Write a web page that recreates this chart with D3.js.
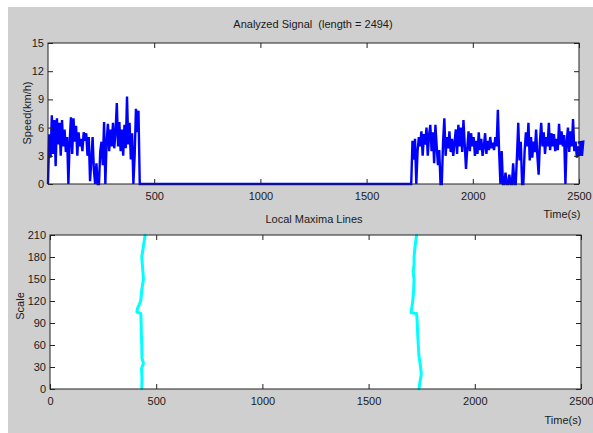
<!DOCTYPE html>
<html>
<head>
<meta charset="utf-8">
<script src="https://cdn.jsdelivr.net/npm/d3@7"></script>
<style>
  html, body { margin: 0; padding: 0; background: #ffffff; }
  svg { display: block; }
  text { font-family: "Liberation Sans", Arial, sans-serif; fill: #1a1a1a; white-space: pre; }
</style>
</head>
<body>
<svg id="fig" width="593" height="433"></svg>
<script>
// Speed record, sampled every 6 s, for the two moving stretches
const sampleStep = 6;
const seg1Start = 0;
const seg1Speed = [
  0, 5.3, 2.8, 7.3, 3.2, 6.8, 1.9, 7.0, 4.2, 6.5, 3.0, 6.8, 4.0, 5.8, 3.4, 5.0,
  0, 4.5, 7.1, 3.2, 7.0, 4.5, 6.2, 3.0, 5.5, 4.0, 4.8, 3.5, 5.5, 4.6, 5.4, 3.0,
  5.0, 0.3, 2.5, 5.0, 1.5, 0, 2.2, 0, 0, 3.5, 4.5, 2.0, 6.6, 0, 4.5, 6.4,
  3.5, 5.8, 4.0, 6.5, 3.8, 5.5, 8.6, 4.0, 6.6, 3.5, 5.8, 3.0, 6.3, 3.8, 9.3,
  4.2, 6.5, 2.6, 5.4, 0, 3.0, 8.0, 5.5, 7.8, 0
];
const seg2Start = 1710;
const seg2Speed = [
  0, 4.6, 2.6, 4.8, 0, 3.5, 5.0, 4.0, 5.6, 3.0, 5.3, 4.2, 6.0, 3.0, 5.2, 6.3,
  3.5, 5.5, 2.2, 6.3, 4.0, 2.0, 3.6, 0, 0, 4.5, 7.0, 3.0, 5.0, 3.8, 5.6, 3.4,
  4.8, 3.0, 4.4, 5.8, 3.2, 6.3, 4.0, 6.0, 3.4, 6.8, 4.2, 1.6, 3.8, 5.6, 3.5,
  5.4, 4.0, 5.0, 3.0, 4.6, 3.2, 5.5, 3.6, 4.8, 3.0, 4.0, 5.4, 3.2, 4.6, 3.6,
  5.0, 3.8, 4.4, 3.6, 5.0, 4.0, 7.9, 3.4, 0, 3.5, 0, 0, 1.2, 0, 0, 1.0,
  0, 0, 2.2, 0, 0, 3.0, 6.5, 2.5, 4.5, 0, 0, 3.5, 5.5, 4.0, 6.5, 2.5,
  5.0, 2.8, 4.5, 3.4, 5.8, 3.0, 1.0, 4.5, 6.5, 4.0, 5.5, 3.2, 5.0, 4.0,
  6.5, 3.6, 5.4, 4.0, 5.3, 3.5, 4.8, 3.6, 6.4, 4.2, 5.6, 4.0, 5.2, 0,
  4.5, 6.0, 3.4, 5.6, 4.0, 6.9, 3.5, 4.5, 2.8, 4.0, 3.0, 4.4, 3.0, 4.5
];
const signalEnd = 2494;
const signalEndSpeed = 4.4;

// Local maxima lines: [time (s), scale] pairs
const maximaLine1 = [
  [432, 0], [433, 15], [431, 28], [440, 35], [433, 42], [432, 60], [430, 75],
  [429, 90], [428, 100], [427, 103], [409, 105], [412, 110], [420, 115],
  [427, 120], [432, 135], [440, 150], [436, 165], [432, 180], [440, 195], [448, 210]
];
const maximaLine2 = [
  [1737, 0], [1742, 10], [1748, 20], [1745, 30], [1737, 45], [1734, 60],
  [1731, 75], [1729, 90], [1727, 100], [1725, 103], [1700, 104], [1703, 110],
  [1708, 120], [1712, 135], [1714, 150], [1710, 160], [1714, 170], [1714, 180],
  [1719, 195], [1726, 210]
];

// Axis ticks
const topXTicks = [500, 1000, 1500, 2000, 2500];
const topYTicks = [0, 3, 6, 9, 12, 15];
const botXTicks = [0, 500, 1000, 1500, 2000, 2500];
const botYTicks = [0, 30, 60, 90, 120, 150, 180, 210];

const titleTop = "Analyzed Signal  (length = 2494)";
const titleBot = "Local Maxima Lines";
const xLabel = "Time(s)";
const yLabelTop = "Speed(km/h)";
const yLabelBot = "Scale";

// Build the speed series as time/value points
const speedSeries = [];
seg1Speed.forEach((v, i) => speedSeries.push([seg1Start + i * sampleStep, v]));
seg2Speed.forEach((v, i) => speedSeries.push([seg2Start + i * sampleStep, v]));
speedSeries.push([signalEnd, signalEndSpeed]);

const svg = d3.select("#fig");
svg.append("rect").attr("x", 8).attr("y", 7).attr("width", 585).attr("height", 426)
  .attr("fill", "#cfcfcf");

const fs = 11;

function panel(box, xDom, yDom) {
  const x = d3.scaleLinear().domain(xDom).range([box.x0, box.x1]);
  const y = d3.scaleLinear().domain(yDom).range([box.y1, box.y0]);
  const g = svg.append("g");
  g.append("rect").attr("x", box.x0).attr("y", box.y0)
    .attr("width", box.x1 - box.x0).attr("height", box.y1 - box.y0)
    .attr("fill", "#ffffff");
  return { x, y, g };
}

function frame(p, box, xTicks, yTicks) {
  const g = svg.append("g");
  const tl = 5;
  // inward ticks on all four sides
  g.append("g").attr("transform", `translate(0,${box.y1})`)
    .call(d3.axisBottom(p.x).tickValues(xTicks).tickSize(-tl).tickPadding(8).tickFormat(d3.format("d")))
    .call(s => s.select(".domain").remove());
  g.append("g").attr("transform", `translate(0,${box.y0})`)
    .call(d3.axisTop(p.x).tickValues(xTicks).tickSize(-tl).tickFormat(""))
    .call(s => s.select(".domain").remove());
  g.append("g").attr("transform", `translate(${box.x0},0)`)
    .call(d3.axisLeft(p.y).tickValues(yTicks).tickSize(-tl).tickPadding(4).tickFormat(d3.format("d")))
    .call(s => s.select(".domain").remove());
  g.append("g").attr("transform", `translate(${box.x1},0)`)
    .call(d3.axisRight(p.y).tickValues(yTicks).tickSize(-tl).tickFormat(""))
    .call(s => s.select(".domain").remove());
  g.selectAll(".tick line").attr("stroke", "#222").attr("stroke-width", 1);
  g.selectAll(".tick text").attr("font-size", fs).attr("fill", "#1a1a1a")
    .attr("font-family", "Liberation Sans, Arial, sans-serif");
  g.append("rect").attr("x", box.x0).attr("y", box.y0)
    .attr("width", box.x1 - box.x0).attr("height", box.y1 - box.y0)
    .attr("fill", "none").attr("stroke", "#222").attr("stroke-width", 1);
  return g;
}

// Upper panel: speed signal
const boxTop = { x0: 48, x1: 579, y0: 43, y1: 184 };
const pTop = panel(boxTop, [0, 2500], [0, 15]);
pTop.g.append("path").datum(speedSeries)
  .attr("d", d3.line().x(d => pTop.x(d[0])).y(d => pTop.y(d[1])))
  .attr("fill", "none").attr("stroke", "#0000ff").attr("stroke-width", 2.4)
  .attr("stroke-linejoin", "miter");
frame(pTop, boxTop, topXTicks, topYTicks);

// Lower panel: local maxima lines
const boxBot = { x0: 50, x1: 581, y0: 235, y1: 389 };
const pBot = panel(boxBot, [0, 2500], [0, 210]);
[maximaLine1, maximaLine2].forEach(line => {
  pBot.g.append("path").datum(line)
    .attr("d", d3.line().x(d => pBot.x(d[0])).y(d => pBot.y(d[1])))
    .attr("fill", "none").attr("stroke", "#00ffff").attr("stroke-width", 3)
    .attr("stroke-linejoin", "round").attr("stroke-linecap", "round");
});
frame(pBot, boxBot, botXTicks, botYTicks);

// Titles and axis labels
svg.append("text").attr("x", 313).attr("y", 28).attr("text-anchor", "middle")
  .attr("font-size", fs).text(titleTop);
svg.append("text").attr("x", 314).attr("y", 223).attr("text-anchor", "middle")
  .attr("font-size", fs).text(titleBot);
svg.append("text").attr("x", 562).attr("y", 218).attr("text-anchor", "middle")
  .attr("font-size", fs).text(xLabel);
svg.append("text").attr("x", 563).attr("y", 424).attr("text-anchor", "middle")
  .attr("font-size", fs).text(xLabel);
svg.append("text").attr("transform", "translate(31,113) rotate(-90)")
  .attr("text-anchor", "middle").attr("font-size", fs).text(yLabelTop);
svg.append("text").attr("transform", "translate(24,306) rotate(-90)")
  .attr("text-anchor", "middle").attr("font-size", fs).text(yLabelBot);
</script>
</body>
</html>
